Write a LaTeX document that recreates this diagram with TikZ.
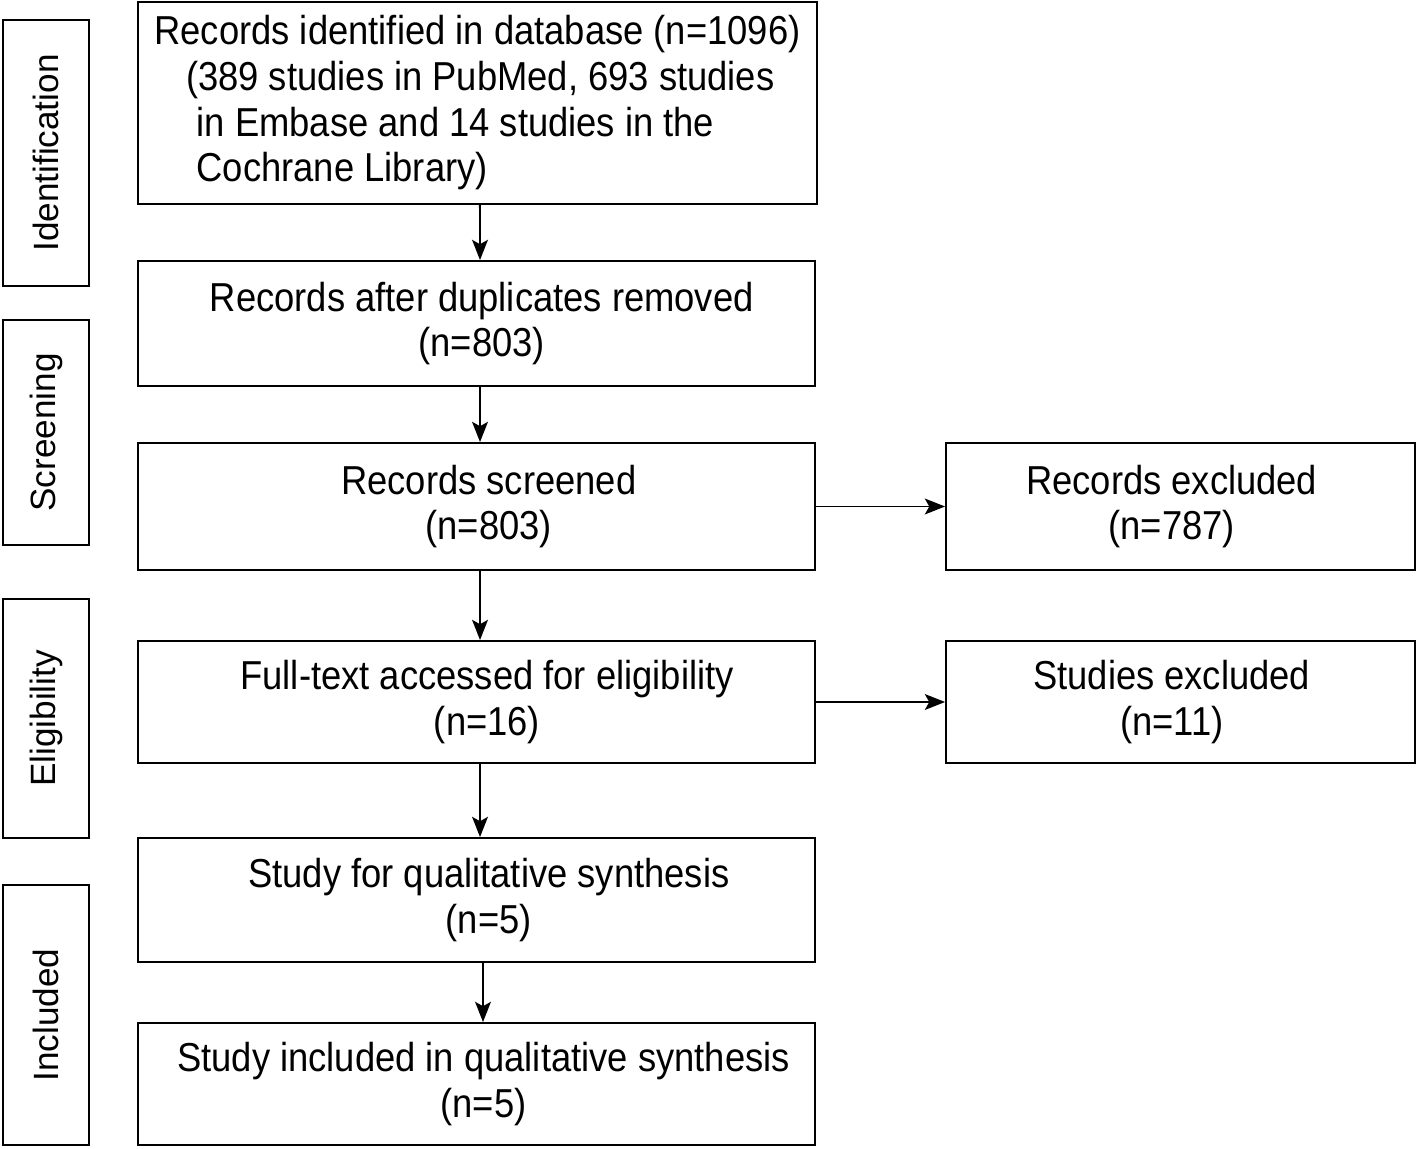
\documentclass[tikz,border=0pt]{standalone}
\usepackage{fontspec}
\setmainfont{Liberation Sans}[FakeStretch=0.9]
\newfontfamily\sidefont{Liberation Sans}
\usetikzlibrary{arrows.meta, positioning}

\tikzset{
    flowbox/.style={draw, line width=1.1pt, align=center, inner sep=0pt,
        minimum width=13.54cm, font=\fontsize{23}{26}\selectfont},
    exclbox/.style={draw, line width=1.1pt, align=center, inner sep=0pt,
        minimum width=9.38cm, font=\fontsize{23}{26}\selectfont},
    stagebox/.style={draw, line width=1.1pt, rotate=90, inner sep=0pt,
        minimum height=1.72cm, font=\sidefont\fontsize{20}{24}\selectfont},
    flowarrow/.style={line width=1.1pt, -{Stealth[length=11.5pt, width=9pt, inset=2.5pt]}}
}

\begin{document}
\begin{tikzpicture}[x=0.02cm, y=-0.02cm]
    \useasboundingbox (0,0) rectangle (1418,1149);

    % === Stage labels ===
    \node[stagebox, minimum width=5.32cm] (ident) at (46,153) {Identification};
    \node[stagebox, minimum width=4.5cm] (screen) at (46,432.5) {Screening};
    \node[stagebox, minimum width=4.78cm] (elig) at (46,718.5) {Eligibility};
    \node[stagebox, minimum width=5.2cm] (incl) at (46,1015) {Included};

    % === Main column ===
    \node[flowbox, minimum width=13.58cm, minimum height=4.04cm, align=left] (records) at (477.5,103)
        {Records identified in database (n=1096)\\
         \hspace*{18pt}(389 studies in PubMed, 693 studies\\
         \hspace*{24pt}in Embase and 14 studies in the\\
         \hspace*{24pt}Cochrane Library)};
    \node[flowbox, minimum height=2.5cm] (dedup) at (476.5,323.5)
        {\hspace*{6pt}Records after duplicates removed\\\hspace*{6pt}(n=803)};
    \node[flowbox, minimum height=2.54cm] (screened) at (476.5,506.5)
        {\hspace*{14pt}Records screened\\\hspace*{14pt}(n=803)};
    \node[flowbox, minimum height=2.44cm] (fulltext) at (476.5,702)
        {\hspace*{12pt}Full-text accessed for eligibility\\\hspace*{12pt}(n=16)};
    \node[flowbox, minimum height=2.48cm] (qualit) at (476.5,900)
        {\hspace*{14pt}Study for qualitative synthesis\\\hspace*{14pt}(n=5)};
    \node[flowbox, minimum height=2.44cm] (included) at (476.5,1084)
        {\hspace*{8pt}Study included in qualitative synthesis\\\hspace*{8pt}(n=5)};

    % === Exclusions ===
    \node[exclbox, minimum height=2.54cm] (recexcl) at (1180.5,506.5)
        {Records excluded\hspace*{10pt}\\(n=787)\hspace*{10pt}};
    \node[exclbox, minimum height=2.44cm] (studexcl) at (1180.5,702)
        {Studies excluded\hspace*{10pt}\\(n=11)\hspace*{10pt}};

    % === Arrows ===
    \draw[flowarrow] ([xshift=1.4pt]records.south) -- ([xshift=2pt]dedup.north);
    \draw[flowarrow] ([xshift=2pt]dedup.south) -- ([xshift=2pt]screened.north);
    \draw[flowarrow] ([xshift=2pt]screened.south) -- ([xshift=2pt]fulltext.north);
    \draw[flowarrow] ([xshift=2pt]fulltext.south) -- ([xshift=2pt]qualit.north);
    \draw[flowarrow] ([xshift=3.7pt]qualit.south) -- ([xshift=3.7pt]included.north);
    \draw[flowarrow] (screened.east) -- (recexcl.west);
    \draw[flowarrow] (fulltext.east) -- (studexcl.west);
\end{tikzpicture}
\end{document}
